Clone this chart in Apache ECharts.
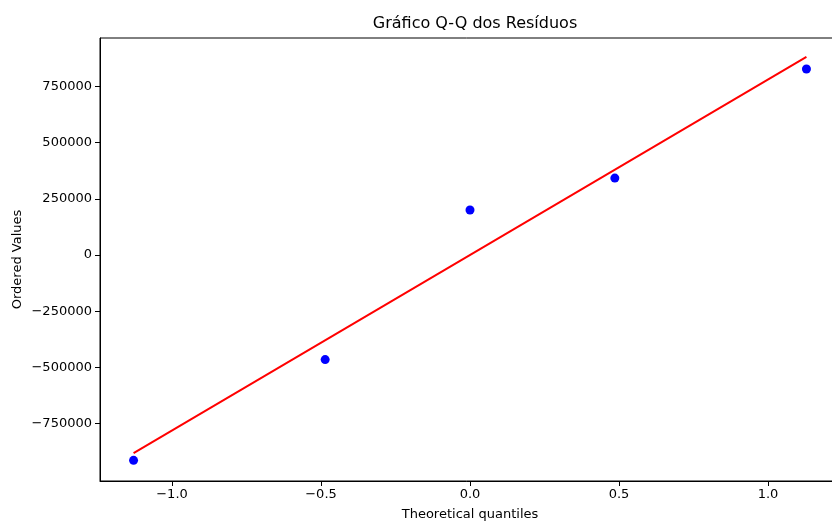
<!DOCTYPE html>
<html>
<head>
<meta charset="utf-8">
<script src="https://cdn.jsdelivr.net/npm/echarts@6/dist/echarts.min.js"></script>
<style>
  html, body { margin: 0; padding: 0; background: #fff; }
  #chart { width: 832px; height: 521px; }
</style>
</head>
<body>
<div id="chart"></div>
<script>
  // theoretical quantiles and ordered residuals
  const quantiles = [-1.129, -0.486, 0.0, 0.486, 1.129]
  const residuals = [-913000, -465000, 200000, 342000, 827000]
  // fitted line end points
  const lineX = [-1.129, 1.129]
  const lineY = [-881000, 881000]
  const xTicks = [-1.0, -0.5, 0.0, 0.5, 1.0]
  const yTicks = [-750000, -500000, -250000, 0, 250000, 500000, 750000]

  const font = 'DejaVu Sans'
  const minus = (s) => s.replace('-', '\u2212')

  const chart = echarts.init(document.getElementById('chart'))

  const option = {
    animation: false,
    title: {
      text: 'Gráfico Q-Q dos Resíduos',
      left: 470,
      textAlign: 'center',
      top: 11,
      textStyle: { fontFamily: font, fontSize: 16, fontWeight: 'normal', color: '#000' }
    },
    grid: {
      left: 100,
      top: 38,
      right: -8,
      bottom: 40,
      outerBoundsMode: 'none',
      show: true,
      borderColor: '#000',
      borderWidth: 1
    },
    xAxis: {
      type: 'value',
      min: -1.2416,
      max: 1.2416,
      name: 'Theoretical quantiles',
      nameLocation: 'middle',
      nameGap: 27,
      nameTextStyle: { fontFamily: font, fontSize: 13, color: '#000' },
      axisLine: { show: true, onZero: false, lineStyle: { color: '#000', width: 1 } },
      axisTick: { show: true, length: 5, customValues: xTicks, lineStyle: { color: '#000' } },
      axisLabel: {
        customValues: xTicks,
        fontFamily: font,
        fontSize: 13,
        color: '#000',
        margin: 7,
        formatter: (v) => minus(v.toFixed(1))
      },
      splitLine: { show: false }
    },
    yAxis: {
      type: 'value',
      min: -1005000,
      max: 965000,
      name: 'Ordered Values',
      nameLocation: 'middle',
      nameRotate: 90,
      nameGap: 76,
      nameMoveOverlap: false,
      nameTextStyle: { fontFamily: font, fontSize: 13, color: '#000' },
      axisLine: { show: true, onZero: false, lineStyle: { color: '#000', width: 1 } },
      axisTick: { show: true, length: 5, customValues: yTicks, lineStyle: { color: '#000' } },
      axisLabel: {
        customValues: yTicks,
        fontFamily: font,
        fontSize: 13,
        color: '#000',
        margin: 8,
        formatter: (v) => minus(String(v))
      },
      splitLine: { show: false }
    },
    series: [
      {
        type: 'line',
        data: lineX.map((x, i) => [x, lineY[i]]),
        showSymbol: false,
        lineStyle: { color: '#ff0000', width: 2 },
        z: 2
      },
      {
        type: 'scatter',
        data: quantiles.map((x, i) => [x, residuals[i]]),
        symbol: 'circle',
        symbolSize: 9,
        itemStyle: { color: '#0000ff', opacity: 1 },
        z: 3
      }
    ]
  }

  chart.setOption(option)
</script>
</body>
</html>
